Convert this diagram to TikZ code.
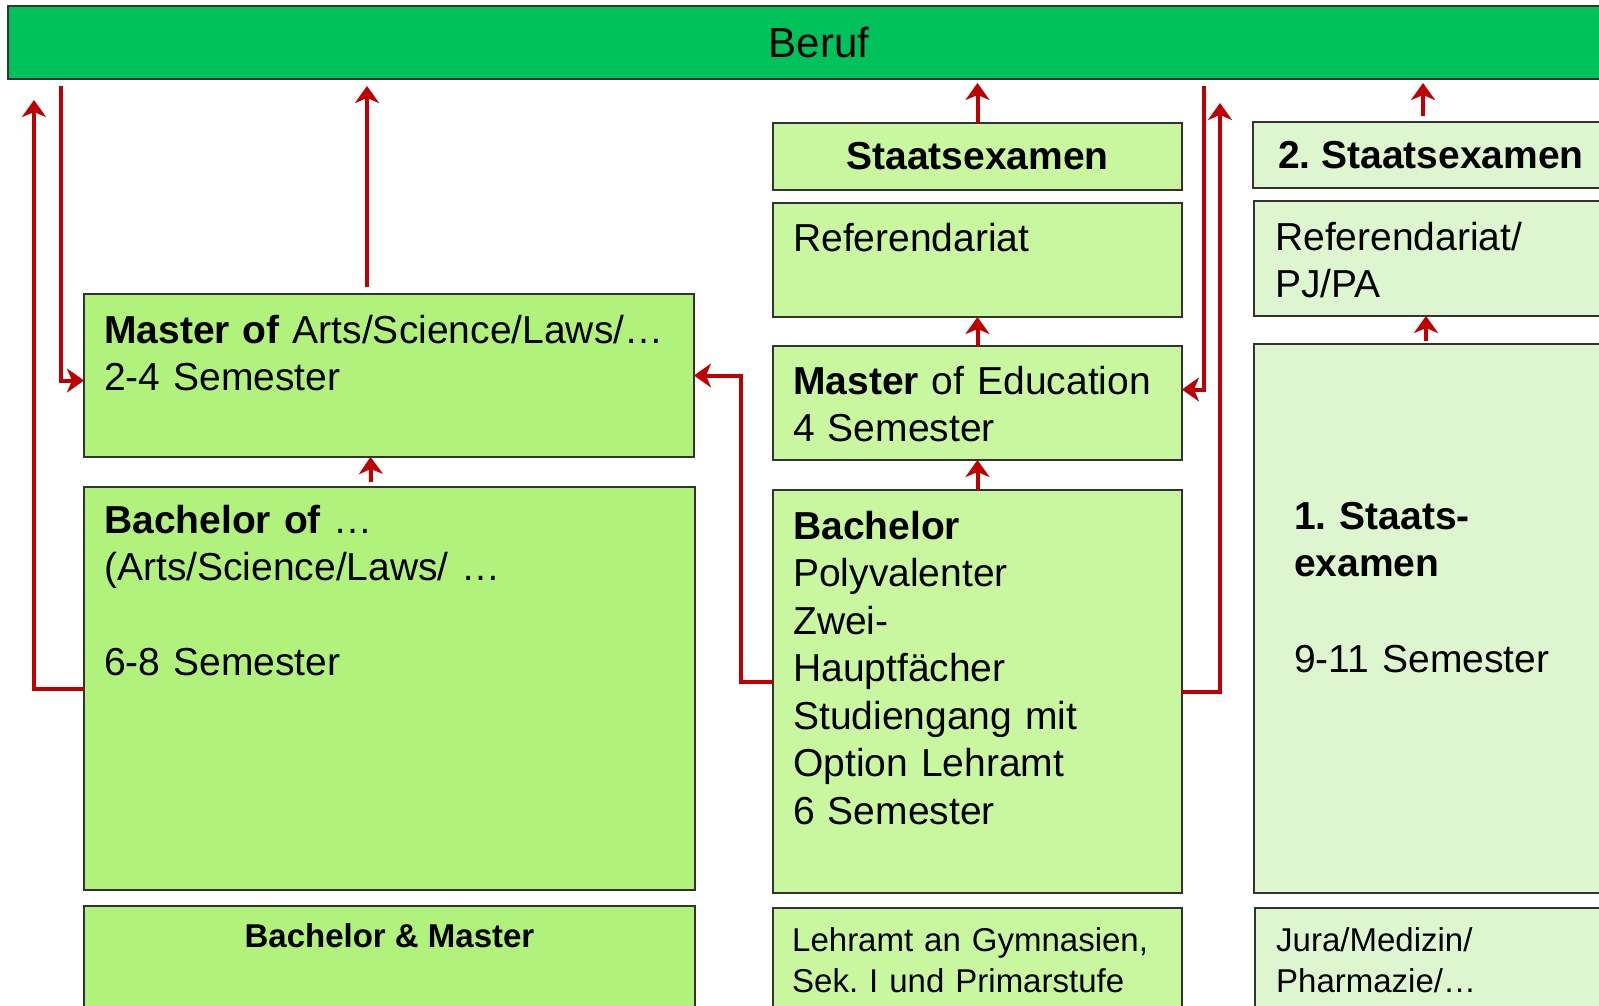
\documentclass[tikz,border=0pt]{standalone}
\usepackage{fontspec}
\setmainfont{Liberation Sans}
\usetikzlibrary{arrows.meta,calc}
\definecolor{berufgreen}{RGB}{0,194,90}
\definecolor{lgreen}{RGB}{176,242,124}
\definecolor{mgreen}{RGB}{200,247,160}
\definecolor{pgreen}{RGB}{221,246,207}
\definecolor{arrowred}{RGB}{192,0,0}
\frenchspacing
\begin{document}
\begin{tikzpicture}[x=1pt,y=-1pt,
  box/.style={draw=black!80, line width=1.6pt, anchor=north west, inner sep=0pt, outer sep=0pt},
  txt/.style={anchor=base west, inner sep=0pt, align=left, text width=#1,
              font=\fontsize{39}{47.5}\selectfont},
  txt/.default=400pt,
  smalltxt/.style={anchor=base west, inner sep=0pt, align=left, text width=#1,
              font=\fontsize{33}{41.5}\selectfont},
  smalltxt/.default=400pt,
  boldtitle/.style={font=\fontsize{39}{47.5}\selectfont\bfseries},
  conn/.style={draw=arrowred, line width=4pt,
               -{Stealth[length=17pt,width=24pt,inset=5pt]}},
]
\useasboundingbox (0,0) rectangle (1599,1006);
\fill[white] (0,0) rectangle (1599,1006);
\begin{scope}
\clip (0,0) rectangle (1599,1006);

% top bar
\node[box, fill=berufgreen, minimum width=1622pt, minimum height=73pt,
      font=\fontsize{42}{50}\selectfont] (beruf) at (8,6) {Beruf};

% left column
\node[box, fill=lgreen, minimum width=610pt, minimum height=163pt] (masterA) at (84,294) {};
\node[box, fill=lgreen, minimum width=611pt, minimum height=403pt] (bachA) at (84,487) {};
\node[box, fill=lgreen, minimum width=611pt, minimum height=160pt] (bmA) at (84,906) {};

% middle column
\node[box, fill=mgreen, minimum width=409pt, minimum height=67pt, boldtitle] (staatsM) at (773,123) {Staatsexamen};
\node[box, fill=mgreen, minimum width=409pt, minimum height=114pt] (refM) at (773,203) {};
\node[box, fill=mgreen, minimum width=409pt, minimum height=114pt] (masterE) at (773,346) {};
\node[box, fill=mgreen, minimum width=409pt, minimum height=403pt] (bachM) at (773,490) {};
\node[box, fill=mgreen, minimum width=409pt, minimum height=160pt] (lehr) at (773,908) {};

% right column
\node[box, fill=pgreen, minimum width=356pt, minimum height=66pt, boldtitle] (staatsR) at (1253,122) {2. Staatsexamen};
\node[box, fill=pgreen, minimum width=360pt, minimum height=115pt] (refR) at (1254,201) {};
\node[box, fill=pgreen, minimum width=360pt, minimum height=549pt] (staats1) at (1254,344) {};
\node[box, fill=pgreen, minimum width=360pt, minimum height=160pt] (jura) at (1255,908) {};

% texts
\node[txt=590pt] (tmA) at (104,343) {\textbf{Master of} Arts/Science/Laws/…\\2-4 Semester};
\node[txt=590pt] (tbA) at (104,533) {\textbf{Bachelor of} …\\(Arts/Science/Laws/ …\\[47.5pt]6-8 Semester};
\node[anchor=base, inner sep=0pt, font=\fontsize{33}{41.5}\selectfont\bfseries] (tbm) at (389.5,947) {Bachelor \& Master};
\node[txt=390pt] (trM) at (793,251) {Referendariat};
\node[txt=390pt] (tmE) at (793,394) {\textbf{Master} of Education\\4 Semester};
\node[txt=390pt] (tbM) at (793,539) {\textbf{Bachelor}\\Polyvalenter\\Zwei-\\Hauptfächer\\Studiengang mit\\Option Lehramt\\6 Semester};
\node[smalltxt=400pt] (tlehr) at (792,951) {Lehramt an Gymnasien,\\Sek. I und Primarstufe};
\node[txt=330pt] (trR) at (1275,250) {Referendariat/\\PJ/PA};
\node[txt=320pt] (ts1) at (1294,529) {\textbf{1. Staats-}\\\textbf{examen}\\[48pt]9-11 Semester};
\node[smalltxt=330pt] (tjura) at (1276,951) {Jura/Medizin/\\Pharmazie/…};

% connector helper points
\coordinate (c1) at (34,100);
\coordinate (c2) at (61,86);
\coordinate (c3top) at (367,86);
\coordinate (c3bot) at (367,287);
\coordinate (c5) at (741,375.5);
\coordinate (c9) at (1204,86);
\coordinate (c10) at (1220,103);
\coordinate (c11) at (1423,83);

% connectors
\draw[conn] (bachA.west) -| (c1);
\draw[conn] (c2) |- ([yshift=-5pt]masterA.west);
\draw[conn] (c3bot) -- (c3top);
\draw[conn] ([xshift=-18.5pt,yshift=5pt]bachA.north) -- ([xshift=-18.5pt]masterA.south);
\draw[conn] ([yshift=9.5pt]bachM.west) -| (c5) -- (masterA.east);
\draw[conn] (bachM.north) -- (masterE.south);
\draw[conn] (masterE.north) -- (refM.south);
\draw[conn, shorten >=4pt] (staatsM.north) -- (staatsM.north |- beruf.south);
\draw[conn] (c9) |- ([yshift=13.5pt]masterE.east);
\draw[conn] (bachM.east) -| (c10);
\draw[conn] ([xshift=-8pt,yshift=6pt]staatsR.north) -- (c11);
\draw[conn, shorten <=3pt] ([xshift=-8pt]staats1.north) -- ([xshift=-8pt]refR.south);
\end{scope}
\end{tikzpicture}
\end{document}
